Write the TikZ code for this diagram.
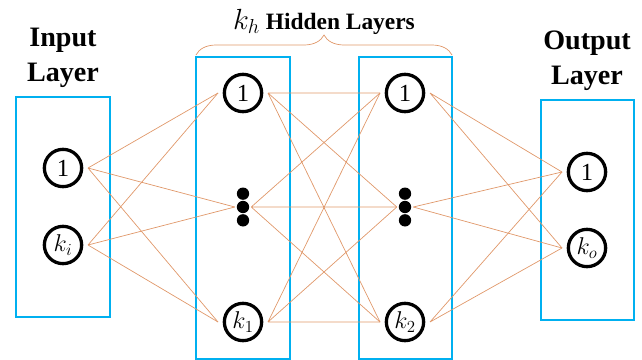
\documentclass[tikz,border=0pt]{standalone}
\usepackage{fontspec}
\setmainfont{Liberation Serif}
\usetikzlibrary{decorations.pathreplacing}
\definecolor{layerblue}{RGB}{0,176,240}
\definecolor{linkcolor}{RGB}{224,152,106}

\begin{document}
\begin{tikzpicture}[x=0.3mm, y=-0.3mm]
        \tikzstyle{neuron}=[circle, draw=black, line width=2.8pt, minimum size=11.2mm, inner sep=0pt, outer sep=1.9mm, font=\fontsize{21}{21}\selectfont]
        \tikzstyle{dotsnode}=[rectangle, minimum width=4.8mm, minimum height=12mm, inner sep=0pt]
        \tikzstyle{layerbox}=[draw=layerblue, line width=2.4pt]
        \tikzstyle{link}=[draw=linkcolor, line width=0.6pt]
        \tikzstyle{layertitle}=[align=center, font=\bfseries\fontsize{24}{30}\selectfont]

\useasboundingbox (0,0) rectangle (642,360);

% the four layers
        \draw[layerbox] (16,97) rectangle (110,317);
        \draw[layerbox] (196,57) rectangle (290,359);
        \draw[layerbox] (359,57) rectangle (452,359);
        \draw[layerbox] (541,100) rectangle (634,320);

        \node[layertitle] (intitle) at (63,58) {Input\\Layer};
        \node[layertitle] (outtitle) at (587,61) {Output\\Layer};

        \node[neuron] (in1) at (63,168) {1};
        \node[neuron] (ink) at (63,245) {$k_i$};

        \node[neuron] (ha1) at (243,93) {1};
        \node[dotsnode] (had) at (243,207) {};
        \node[neuron] (hak) at (243,322) {$k_1$};

        \node[neuron] (hb1) at (405,93) {1};
        \node[dotsnode] (hbd) at (405,207) {};
        \node[neuron] (hbk) at (405,322) {$k_2$};

        \node[neuron] (out1) at (587,172) {1};
        \node[neuron] (outk) at (587,248) {$k_o$};

        \fill ([yshift=4mm]had) circle (1.85mm) (had) circle (1.85mm) ([yshift=-4mm]had) circle (1.85mm);
        \fill ([yshift=4mm]hbd) circle (1.85mm) (hbd) circle (1.85mm) ([yshift=-4mm]hbd) circle (1.85mm);

% connections between layers
        \draw[link] (in1.east) -- (ha1.west) (in1.east) -- (had.west) (in1.east) -- (hak.west);
        \draw[link] (ink.east) -- (ha1.west) (ink.east) -- (had.west) (ink.east) -- (hak.west);

        \draw[link] (ha1.east) -- (hb1.west) (ha1.east) -- (hbd.west) (ha1.east) -- (hbk.west);
        \draw[link] (had.east) -- (hb1.west) (had.east) -- (hbd.west) (had.east) -- (hbk.west);
        \draw[link] (hak.east) -- (hb1.west) (hak.east) -- (hbd.west) (hak.east) -- (hbk.west);

        \draw[link] (hb1.east) -- (out1.west) (hb1.east) -- (outk.west);
        \draw[link] (hbd.east) -- (out1.west) (hbd.east) -- (outk.west);
        \draw[link] (hbk.east) -- (out1.west) (hbk.east) -- (outk.west);

        \draw[link, decorate, decoration={brace, amplitude=6mm}] (196,55) -- (452,55);
        \node[anchor=base, font=\bfseries\fontsize{20}{24}\selectfont] (hiddentitle) at (324,29) {{\fontsize{24}{24}\selectfont$k_h$} Hidden Layers};

    \end{tikzpicture}
\end{document}
